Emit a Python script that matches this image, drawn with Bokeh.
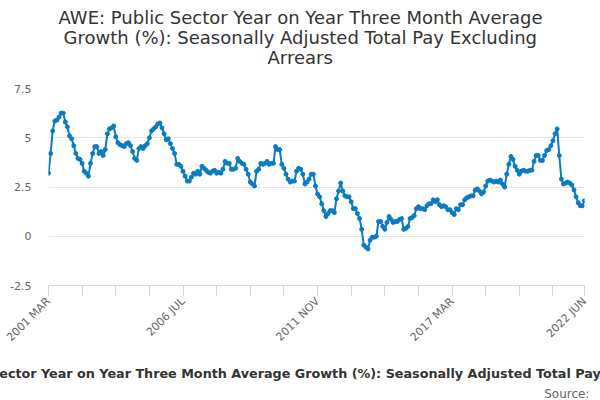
import math
from bokeh.plotting import figure
from bokeh.models import Range1d, FixedTicker, Title
from bokeh.embed import file_html
from bokeh.resources import INLINE

title_lines = [
    "AWE: Public Sector Year on Year Three Month Average",
    "Growth (%): Seasonally Adjusted Total Pay Excluding",
    "Arrears",
]
x_title = ("AWE: Public Sector Year on Year Three Month Average Growth (%): "
           "Seasonally Adjusted Total Pay Excluding Arrears")
source_text = "Source:"

# Monthly values, 2001 MAR .. 2022 JUN
values = [
    3.2, 4.2, 5.35, 5.85, 5.9, 6.05, 6.25, 6.25, 5.8, 5.55,
    5.1, 4.95, 4.6, 4.2, 3.95, 3.9, 3.7, 3.3, 3.2, 3.05,
    3.7, 4.2, 4.55, 4.55, 4.2, 4.3, 4.1, 4.4, 5.2, 5.45,
    5.5, 5.6, 5.05, 4.75, 4.65, 4.6, 4.55, 4.7, 4.75, 4.6,
    4.3, 3.95, 3.85, 4.45, 4.55, 4.45, 4.6, 4.7, 5.0, 5.35,
    5.45, 5.55, 5.7, 5.75, 5.5, 5.2, 4.9, 4.95, 4.7, 4.45,
    4.2, 3.65, 3.65, 3.55, 3.3, 3.05, 2.8, 2.8, 3.0, 3.2,
    3.15, 3.3, 3.15, 3.55, 3.45, 3.35, 3.25, 3.2, 3.3, 3.35,
    3.2, 3.25, 3.2, 3.4, 3.8, 3.7, 3.7, 3.4, 3.4, 3.45,
    3.95, 3.8, 3.7, 3.65, 3.4, 3.15, 2.75, 2.65, 2.55, 3.3,
    3.4, 3.7, 3.65, 3.7, 3.8, 3.65, 3.7, 3.7, 4.55, 4.4,
    4.4, 3.65, 3.45, 3.15, 2.9, 2.75, 2.8, 2.8, 3.3, 3.45,
    3.4, 3.15, 2.65, 2.75, 2.9, 3.15, 3.15, 2.55, 2.15, 2.0,
    1.65, 1.3, 1.0, 1.15, 1.3, 1.3, 1.2, 1.9, 2.3, 2.7,
    2.3, 2.05, 2.0, 2.0, 1.75, 1.4, 1.4, 1.15, 0.9, 0.35,
    -0.45, -0.55, -0.65, -0.2, -0.05, -0.05, 0.0, 0.75, 0.75, 0.5,
    0.35, 0.7, 1.0, 0.85, 0.7, 0.75, 0.75, 0.85, 0.9, 0.35,
    0.4, 0.5, 0.9, 0.95, 1.05, 1.4, 1.5, 1.4, 1.4, 1.35,
    1.55, 1.65, 1.65, 1.85, 1.75, 1.85, 1.6, 1.5, 1.55, 1.5,
    1.35, 1.35, 1.2, 1.1, 1.4, 1.35, 1.6, 1.6, 1.85, 1.95,
    2.0, 2.05, 2.05, 2.35, 2.4, 2.3, 2.15, 2.25, 2.55, 2.8,
    2.85, 2.8, 2.75, 2.8, 2.75, 2.85, 2.65, 2.5, 3.15, 3.65,
    4.05, 3.9, 3.55, 3.35, 3.15, 3.3, 3.35, 3.3, 3.3, 3.35,
    3.35, 3.8, 4.1, 4.1, 3.85, 3.85, 4.1, 4.35, 4.4, 4.6,
    4.85, 5.2, 5.45, 4.1, 2.9, 2.65, 2.7, 2.75, 2.7, 2.6,
    2.35, 2.0, 1.7, 1.55, 1.55, 1.8,
]
x_index = list(range(len(values)))

x_tick_positions = [0, 16, 32, 48, 64, 80, 96, 112, 128, 144, 160, 176, 192,
                    208, 224, 240, 255]
x_label_positions = [0, 64, 128, 192, 255]
x_tick_labels = ["2001 MAR", "2006 JUL", "2011 NOV", "2017 MAR", "2022 JUN"]

y_ticks = [-2.5, 0, 2.5, 5, 7.5]
y_tick_labels = ["-2.5", "0", "2.5", "5", "7.5"]

LINE = "#0b7bc2"
FONT = "DejaVu Sans"

p = figure(width=600, height=400, output_backend="svg", toolbar_location=None,
           title=title_lines[0],
           x_range=Range1d(0, 255), y_range=Range1d(-2.5, 7.5),
           min_border_left=48, min_border_right=16, min_border_top=88,
           min_border_bottom=108)
p.outline_line_color = None
p.background_fill_color = "white"
p.border_fill_color = "white"

def style_title(t, standoff, offset):
    t.align = "left"
    t.text_font = FONT
    t.text_font_size = "18px"
    t.text_font_style = "normal"
    t.text_color = "#333333"
    t.standoff = standoff
    t.offset = offset

style_title(p.title, -3, 10)
# spacer between the title block and the plot area
spacer = Title(text=" ", text_font_size="1px", standoff=19)
p.add_layout(spacer, "above")
t3 = Title(text=title_lines[2])
style_title(t3, -3, 219)
p.add_layout(t3, "above")
t2 = Title(text=title_lines[1])
style_title(t2, -3, 15)
p.add_layout(t2, "above")

p.line(x_index, values, line_color=LINE, line_width=2)
p.scatter(x_index, values, size=4, fill_color=LINE, line_color=LINE)

# x axis
xa = p.xaxis[0]
xa.ticker = FixedTicker(ticks=x_tick_positions, minor_ticks=[])
overrides = {t: "" for t in x_tick_positions}
for pos, lab in zip(x_label_positions, x_tick_labels):
    overrides[pos] = lab
xa.major_label_overrides = overrides
xa.major_label_orientation = math.pi / 4
xa.axis_line_color = "#ccd6eb"
xa.major_tick_line_color = "#ccd6eb"
xa.major_tick_out = 10
xa.major_tick_in = 0
xa.minor_tick_line_color = None
xa.major_label_text_font = FONT
xa.major_label_text_font_size = "11px"
xa.major_label_text_color = "#666666"
xa.major_label_standoff = 4
xa.axis_label = x_title
xa.axis_label_text_font = FONT
xa.axis_label_text_font_size = "12.75px"
xa.axis_label_text_font_style = "bold"
xa.axis_label_text_color = "#333333"
xa.axis_label_standoff = 15

# y axis
ya = p.yaxis[0]
ya.ticker = FixedTicker(ticks=y_ticks, minor_ticks=[])
ya.major_label_overrides = {t: l for t, l in zip(y_ticks, y_tick_labels)}
ya.axis_line_color = None
ya.major_tick_line_color = None
ya.minor_tick_line_color = None
ya.major_tick_out = 0
ya.major_label_standoff = 17
ya.major_label_text_font = FONT
ya.major_label_text_font_size = "11px"
ya.major_label_text_color = "#666666"

p.xgrid.grid_line_color = None
p.ygrid.grid_line_color = "#e6e6e6"
p.ygrid.ticker = FixedTicker(ticks=y_ticks)

src = Title(text=source_text, align="right", text_font=FONT,
            text_font_size="12px", text_font_style="normal",
            text_color="#666666", standoff=0, offset=-5)
p.add_layout(src, "below")

open("out.html", "w").write(file_html(p, INLINE))
